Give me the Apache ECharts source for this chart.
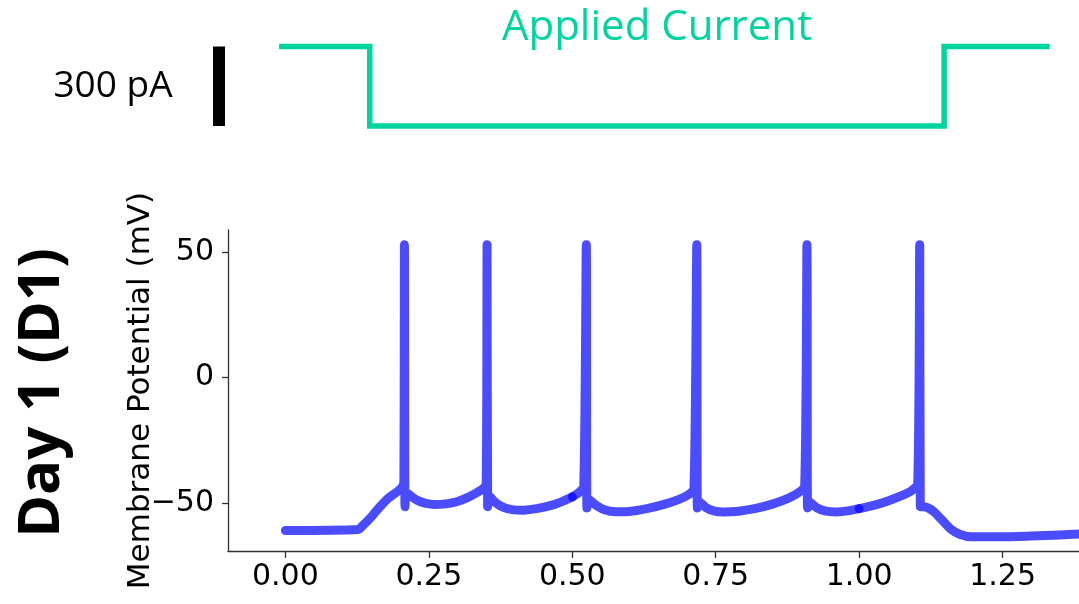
<!DOCTYPE html>
<html>
<head>
<meta charset="utf-8">
<script src="https://cdn.jsdelivr.net/npm/echarts@6/dist/echarts.min.js"></script>
<style>
  html, body { margin: 0; padding: 0; background: #ffffff; }
  #chart { width: 1079px; height: 604px; }
</style>
</head>
<body>
<div id="chart"></div>
<script>
// ---- Data ----
// Membrane potential trace (time in s, potential in mV)
const timeS = [
  0.000, 0.127, 0.135, 0.150, 0.165, 0.180, 0.195, 0.204, 0.2065,
  0.2075, 0.2085, 0.211, 0.220, 0.230, 0.245, 0.260, 0.275, 0.290, 0.305, 0.320, 0.333, 0.343, 0.350,
  0.3515, 0.3525, 0.356, 0.365, 0.378, 0.395, 0.415, 0.440, 0.465, 0.485, 0.500, 0.512, 0.520,
  0.5245, 0.5255, 0.528, 0.540, 0.555, 0.575, 0.600, 0.630, 0.660, 0.685, 0.702, 0.712,
  0.717, 0.718, 0.721, 0.733, 0.748, 0.765, 0.790, 0.820, 0.850, 0.877, 0.895, 0.905,
  0.909, 0.910, 0.913, 0.925, 0.940, 0.960, 0.980, 1.000, 1.025, 1.050, 1.075, 1.092, 1.102,
  1.1055, 1.1065, 1.112, 1.120, 1.130, 1.145, 1.160, 1.175, 1.195, 1.250, 1.300, 1.350, 1.400, 1.450
];
const membraneMV = [
  -61.0, -60.6, -59.0, -55.5, -51.5, -48.0, -45.5, -43.5, -41.5,
  53.0, -51.5, -46.0, -47.5, -49.0, -50.2, -50.6, -50.5, -50.0, -49.0, -47.6, -46.0, -44.6, -42.5,
  53.0, -51.5, -47.5, -49.6, -51.6, -52.7, -52.9, -52.2, -50.9, -49.2, -47.6, -45.8, -43.5,
  53.0, -52.0, -48.5, -50.7, -52.6, -53.5, -53.4, -52.3, -50.6, -48.7, -46.8, -44.5,
  53.0, -52.0, -49.5, -51.9, -53.3, -53.6, -53.3, -52.2, -50.4, -48.1, -45.8, -43.5,
  53.0, -52.0, -49.5, -51.8, -53.2, -53.6, -53.2, -52.3, -51.0, -49.2, -47.0, -45.0, -42.5,
  53.0, -51.5, -51.5, -52.0, -53.5, -57.0, -60.5, -62.5, -63.5, -63.5, -63.2, -62.8, -62.2, -62.0
];
// The trace was drawn in pieces that overlap at these times
const segmentBreaksS = [0.5, 1.0];

// Applied current step (time in s, current in pA)
const currentTimeS = [-0.011, 0.147, 0.147, 1.148, 1.148, 1.332];
const currentPA = [0, 0, -300, -300, 0, 0];
const scaleBarPA = 300;

// Axis ticks
const xTicks = [0, 0.25, 0.5, 0.75, 1.0, 1.25];
const yTicks = [-50, 0, 50];

// Texts
const titleText = 'Applied Current';
const scaleText = '300 pA';
const yAxisName = 'Membrane Potential (mV)';
const panelText = 'Day 1 (D1)';

// ---- Build series ----
function segment(from, to) {
  const out = [];
  for (let i = 0; i < timeS.length; i++) {
    if (timeS[i] >= from && timeS[i] <= to) out.push([timeS[i], membraneMV[i]]);
  }
  return out;
}
const bounds = [-Infinity].concat(segmentBreaksS, [Infinity]);
const traceSeries = [];
for (let k = 0; k < bounds.length - 1; k++) {
  traceSeries.push({
    type: 'line',
    xAxisIndex: 0, yAxisIndex: 0,
    data: segment(bounds[k], bounds[k + 1]),
    showSymbol: false, symbol: 'none',
    smooth: 0.25,
    clip: false,
    silent: true,
    animation: false,
    lineStyle: { color: '#0000ff', opacity: 0.7, width: 9, cap: 'round', join: 'round' }
  });
}

const currentSeries = {
  type: 'line',
  xAxisIndex: 1, yAxisIndex: 1,
  data: currentTimeS.map((t, i) => [t, currentPA[i]]),
  showSymbol: false, symbol: 'none',
  clip: false, silent: true, animation: false,
  lineStyle: { color: '#00d5a0', width: 5.5, cap: 'butt', join: 'miter' }
};

const X_MIN = -0.1, X_MAX = 1.3831;
const tickFont = { fontFamily: 'DejaVu Sans', fontSize: 30, color: '#000000' };

const chart = echarts.init(document.getElementById('chart'), null, { renderer: 'canvas' });
const option = {
  animation: false,
  backgroundColor: '#ffffff',
  grid: [
    { left: 228, right: 0, top: 230, bottom: 53 },
    { left: 228, right: 0, top: 46.5, height: 79.5 }
  ],
  xAxis: [
    {
      gridIndex: 0, type: 'value', min: X_MIN, max: X_MAX,
      axisLine: { show: true, onZero: false, lineStyle: { color: '#333333', width: 1.3 } },
      axisTick: { show: true, length: 7, customValues: xTicks, lineStyle: { color: '#333333', width: 1.3 } },
      axisLabel: { ...tickFont, margin: 11, customValues: xTicks, formatter: v => v.toFixed(2) },
      splitLine: { show: false }
    },
    { gridIndex: 1, type: 'value', min: X_MIN, max: X_MAX, show: false }
  ],
  yAxis: [
    {
      gridIndex: 0, type: 'value', min: -69.2, max: 58.9,
      axisLine: { show: true, onZero: false, lineStyle: { color: '#333333', width: 1.3 } },
      axisTick: { show: true, length: 6, customValues: yTicks, lineStyle: { color: '#333333', width: 1.3 } },
      axisLabel: { ...tickFont, margin: 14, customValues: yTicks,
        formatter: v => (v < 0 ? '\u2212' + Math.abs(v) : String(v)) },
      splitLine: { show: false },
      name: yAxisName, nameLocation: 'middle', nameGap: 72, nameMoveOverlap: false,
      nameTextStyle: { fontFamily: 'DejaVu Sans', fontSize: 31, color: '#000000' }
    },
    { gridIndex: 1, type: 'value', min: -300, max: 0, show: false }
  ],
  series: traceSeries.concat([currentSeries])
};
chart.setOption(option);

// Scale bar placed through the current axis' scale
const yTop = chart.convertToPixel({ yAxisIndex: 1 }, 0);
const yBot = chart.convertToPixel({ yAxisIndex: 1 }, -scaleBarPA);
chart.setOption({
  graphic: [
    { type: 'rect', shape: { x: 213, y: yTop, width: 12, height: yBot - yTop },
      style: { fill: '#000000' }, silent: true },
    { type: 'text', x: 113, y: (yTop + yBot) / 2,
      style: { text: scaleText, fontFamily: 'Open Sans', fontSize: 37, fill: '#000000',
        align: 'center', verticalAlign: 'middle' }, silent: true },
    { type: 'text', x: 657, y: 28,
      style: { text: titleText, fontFamily: 'Open Sans', fontSize: 42, fill: '#00d5a0',
        align: 'center', verticalAlign: 'middle' }, silent: true },
    { type: 'text', x: 42, y: 393, rotation: Math.PI / 2,
      style: { text: panelText, fontFamily: 'Open Sans', fontWeight: 'bold', fontSize: 58, fill: '#000000',
        align: 'center', verticalAlign: 'middle' }, silent: true }
  ]
});
</script>
</body>
</html>
